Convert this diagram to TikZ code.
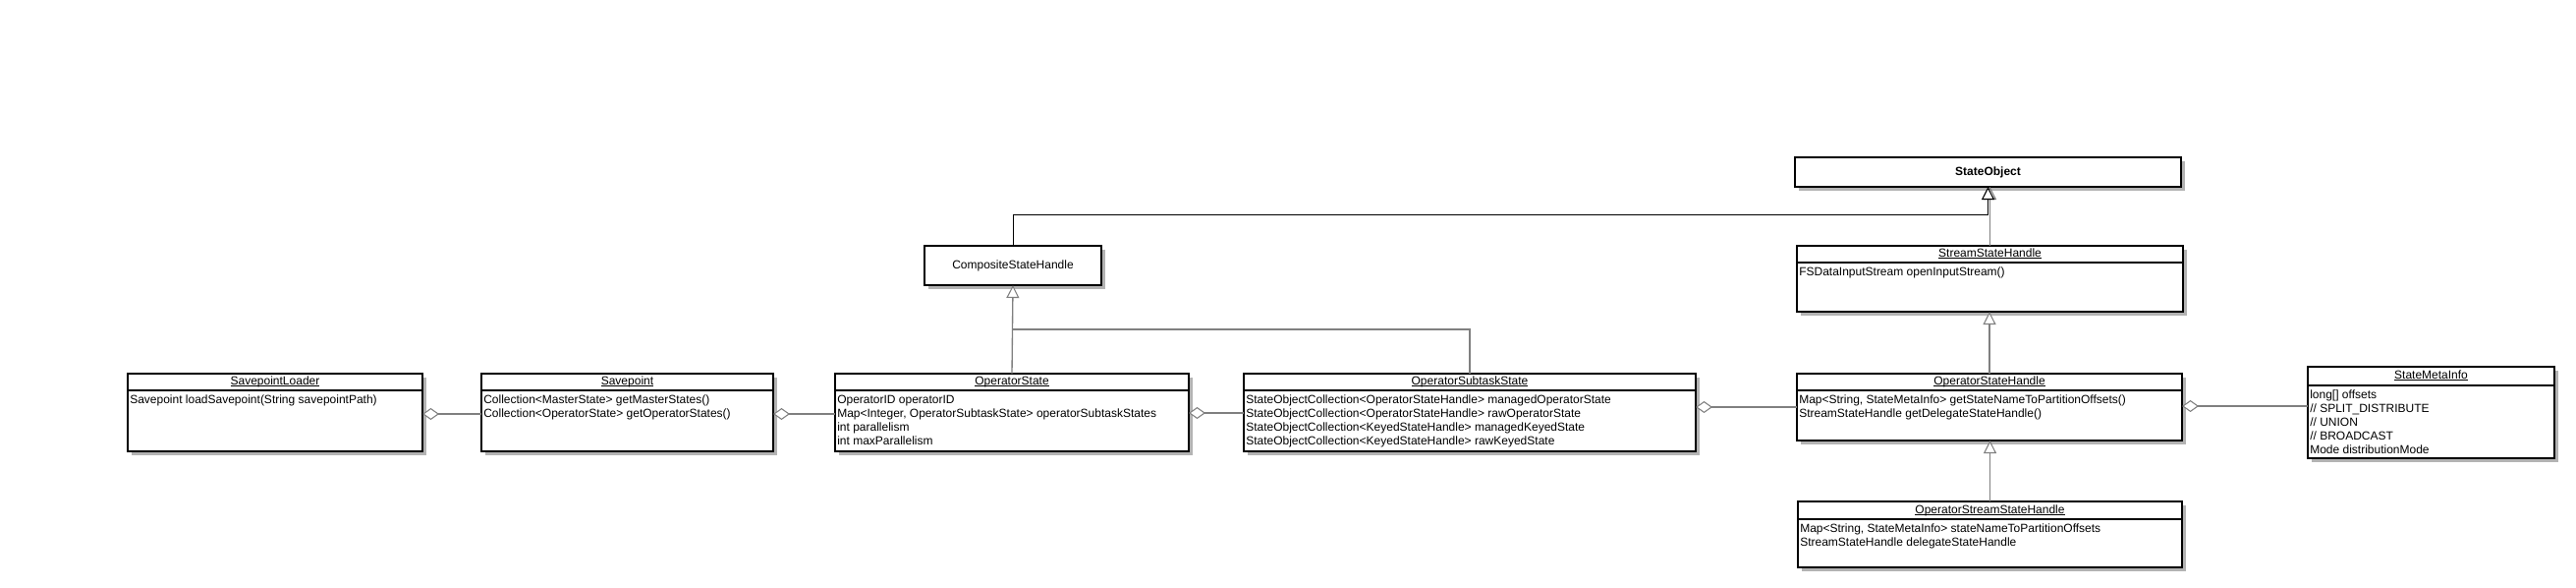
\documentclass[tikz,border=0pt]{standalone}
\usepackage{fontspec}
\setmainfont{Liberation Sans}
\usetikzlibrary{arrows.meta,shadows,calc}
\definecolor{lngray}{RGB}{128,128,128}
\definecolor{shgray}{RGB}{179,179,179}
\newcommand{\umltitle}[1]{{\setbox0=\hbox{#1}\copy0\kern-\wd0\rule[-1.6pt]{\wd0}{0.7pt}}}
\begin{document}
\begin{tikzpicture}[x=0.75pt,y=-0.75pt,
  cls/.style={draw=black, line width=1.5pt, fill=white, anchor=north west,
    inner sep=0pt, outer sep=0pt, font=\fontsize{9}{10.5}\selectfont,
    drop shadow={shadow xshift=3pt, shadow yshift=-3pt, fill=shgray, opacity=1}},
  sepline/.style={draw=black, line width=1.5pt},
  title/.style={anchor=base, inner sep=0pt, font=\fontsize{9}{10.5}\selectfont},
  body/.style={anchor=north west, inner sep=0pt, align=left, font=\fontsize{9}{10.5}\selectfont},
  agg/.style={draw=lngray, line width=1pt, -{Diamond[length=12.75pt, width=9pt, fill=white, line width=0.8pt]}},
  inh/.style={draw=lngray, line width=1pt, -{Triangle[length=9.75pt, width=9.75pt, fill=white, line width=0.8pt]}},
  conn/.style={draw=lngray, line width=1pt}
]
\fill[white] (0,0) rectangle (2622,597);
\useasboundingbox (0,0) rectangle (2622,597);

% ---------- boxes ----------
\node[cls, minimum width=225pt, minimum height=59.25pt] (sl) at (130,380) {};
\node[cls, minimum width=222.75pt, minimum height=59.25pt] (sp) at (490,380) {};
\node[cls, minimum width=270pt, minimum height=59.25pt] (os) at (850,380) {};
\node[cls, minimum width=345pt, minimum height=59.25pt] (oss) at (1266,380) {};
\node[cls, minimum width=294pt, minimum height=51pt] (osh) at (1829,380) {};
\node[cls, minimum width=188.25pt, minimum height=69.75pt] (smi) at (2349,373) {};
\node[cls, minimum width=293.25pt, minimum height=50.25pt] (ossh) at (1830,510) {};
\node[cls, minimum width=294.75pt, minimum height=50.25pt] (ssh) at (1829,250) {};
\node[cls, minimum width=294.75pt, minimum height=22.5pt] (so) at (1827,160) {\textbf{StateObject}};
\node[cls, minimum width=135pt, minimum height=30pt] (csh) at (941,250) {CompositeStateHandle};

% ---------- header separators ----------
\foreach \n in {sl,sp,os,oss,osh,ssh}{
  \draw[sepline] ([yshift=-12.75pt]\n.north west) -- ([yshift=-12.75pt]\n.north east);
}
\draw[sepline] ([yshift=-14.25pt]smi.north west) -- ([yshift=-14.25pt]smi.north east);
\draw[sepline] ([yshift=-13.5pt]ossh.north west) -- ([yshift=-13.5pt]ossh.north east);

% ---------- titles ----------
\node[title] (slt) at ([yshift=-8.4pt]sl.north) {\umltitle{SavepointLoader}};
\node[title] (spt) at ([yshift=-8.4pt]sp.north) {\umltitle{Savepoint}};
\node[title] (ost) at ([yshift=-8.4pt]os.north) {\umltitle{OperatorState}};
\node[title] (osst) at ([yshift=-8.4pt]oss.north) {\umltitle{OperatorSubtaskState}};
\node[title] (osht) at ([yshift=-8.4pt]osh.north) {\umltitle{OperatorStateHandle}};
\node[title] (smit) at ([yshift=-9pt]smi.north) {\umltitle{StateMetaInfo}};
\node[title] (sshtt) at ([yshift=-8.4pt]ssh.north) {\umltitle{StreamStateHandle}};
\node[title] (ossht) at ([yshift=-9.2pt]ossh.north) {\umltitle{OperatorStreamStateHandle}};

% ---------- bodies ----------
\node[body] (slb) at ([xshift=1.5pt,yshift=-15.4pt]sl.north west)
  {\strut Savepoint loadSavepoint(String savepointPath)};
\node[body] (spb) at ([xshift=1.5pt,yshift=-15.4pt]sp.north west)
  {\strut Collection<MasterState> getMasterStates()\\Collection<OperatorState> getOperatorStates()};
\node[body] (osb) at ([xshift=1.5pt,yshift=-15.4pt]os.north west)
  {\strut OperatorID operatorID\\Map<Integer, OperatorSubtaskState> operatorSubtaskStates\\int parallelism\\int maxParallelism};
\node[body] (ossb) at ([xshift=1.5pt,yshift=-15.4pt]oss.north west)
  {\strut StateObjectCollection<OperatorStateHandle> managedOperatorState\\StateObjectCollection<OperatorStateHandle> rawOperatorState\\StateObjectCollection<KeyedStateHandle> managedKeyedState\\StateObjectCollection<KeyedStateHandle> rawKeyedState};
\node[body] (oshb) at ([xshift=1.5pt,yshift=-15.4pt]osh.north west)
  {\strut Map<String, StateMetaInfo> getStateNameToPartitionOffsets()\\StreamStateHandle getDelegateStateHandle()};
\node[body] (smib) at ([xshift=1.5pt,yshift=-16.9pt]smi.north west)
  {\strut long[] offsets\\// SPLIT\_DISTRIBUTE\\// UNION\\// BROADCAST\\Mode distributionMode};
\node[body] (sshb) at ([xshift=1.5pt,yshift=-15.4pt]ssh.north west)
  {\strut FSDataInputStream openInputStream()};
\node[body] (osshb) at ([xshift=1.5pt,yshift=-16.1pt]ossh.north west)
  {\strut Map<String, StateMetaInfo> stateNameToPartitionOffsets\\StreamStateHandle delegateStateHandle};

% ---------- aggregations ----------
\draw[agg] (sp.west |- 0,421) -- (sl.east |- 0,421);
\draw[agg] (os.west |- 0,421) -- (sp.east |- 0,421);
\draw[agg] (oss.west |- 0,420) -- (os.east |- 0,420);
\draw[agg] (osh.west |- 0,414) -- (oss.east |- 0,414);
\draw[agg] (smi.west |- 0,413) -- (osh.east |- 0,413);

% ---------- generalizations ----------
\draw[conn] (oss.north) |- (csh.south |- 0,335);
\draw[inh] (os.north) -- (csh.south);
\draw[inh] (ssh.north) -- (ssh.north |- so.south);
\draw[inh, draw=black, line width=0.75pt] (csh.north) |- (so.south |- 0,218) -- (so.south);
\draw[inh] (osh.north) -- (osh.north |- ssh.south);
\draw[inh] (ossh.north) -- (ossh.north |- osh.south);
\end{tikzpicture}
\end{document}
